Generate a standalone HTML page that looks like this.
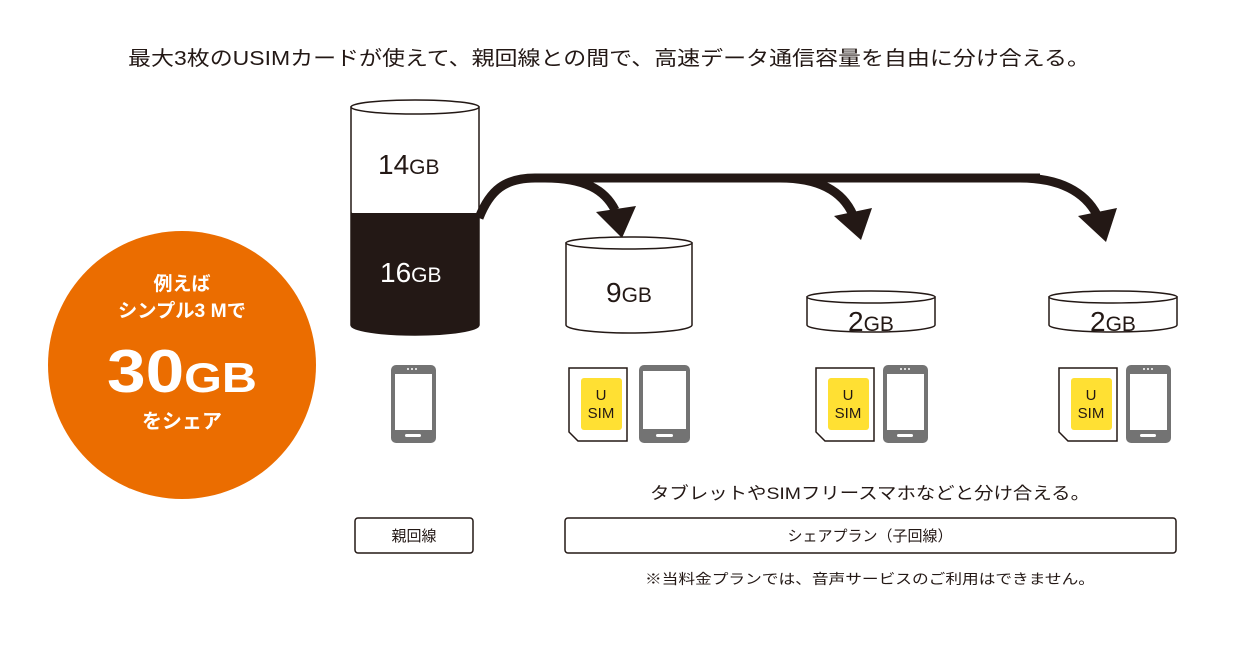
<!DOCTYPE html>
<html><head><meta charset="utf-8">
<style>
html,body{margin:0;padding:0;background:#fff;}
svg{display:block;}
text{font-family:"Liberation Sans","Noto Sans CJK JP",sans-serif;}
</style></head>
<body>
<svg width="1240" height="665" viewBox="0 0 1240 665" xmlns="http://www.w3.org/2000/svg">
<text x="609" y="65" font-size="20" text-anchor="middle" fill="#231815" textLength="962" lengthAdjust="spacingAndGlyphs">最大3枚のUSIMカードが使えて、親回線との間で、高速データ通信容量を自由に分け合える。</text>

<!-- orange circle -->
<circle cx="182" cy="365" r="134" fill="#EB6D00"/>
<g fill="#fff" font-weight="bold" text-anchor="middle">
<text x="182" y="290" font-size="19">例えば</text>
<text x="182" y="317" font-size="19" textLength="128" lengthAdjust="spacingAndGlyphs">シンプル3 Mで</text>
<text x="182" y="392" font-size="60" textLength="150" lengthAdjust="spacingAndGlyphs">30<tspan font-size="42">GB</tspan></text>
<text x="182" y="428" font-size="20">をシェア</text>
</g>

<!-- big cylinder -->
<path d="M351,107 L351,325 A64,10 0 0 0 479,325 L479,107 Z" fill="#fff" stroke="#231815" stroke-width="1.5"/>
<path d="M351,211 A64,10 0 0 0 479,211 L479,325 A64,10 0 0 1 351,325 Z" fill="#231815"/>
<path d="M351,213 L351,325 A64,10 0 0 0 479,325 L479,213 Z" fill="#231815"/>
<ellipse cx="415" cy="107" rx="64" ry="7" fill="#fff" stroke="#231815" stroke-width="1.5"/>
<text x="378" y="174" font-size="28" fill="#231815">14<tspan font-size="21">GB</tspan></text>
<text x="380" y="282" font-size="28" fill="#fff">16<tspan font-size="21">GB</tspan></text>

<!-- arrows -->
<g fill="none" stroke="#231815" stroke-width="9">
<path d="M479,218 C490,190 505,178 535,178 L1040,178"/>
<path d="M545,178 C585,178 605,190 615,210"/>
<path d="M780,178 C820,178 843,192 853,215"/>
<path d="M1020,178 C1060,178 1085,192 1097,215"/>
</g>
<g fill="#231815">
<polygon points="596,212 636,206 622,238"/>
<polygon points="834,216 872,208 861,240"/>
<polygon points="1078,216 1117,208 1106,242"/>
</g>

<!-- 9GB cylinder -->
<path d="M566,243 L566,325 A63,8 0 0 0 692,325 L692,243 Z" fill="#fff" stroke="#231815" stroke-width="1.5"/>
<ellipse cx="629" cy="243" rx="63" ry="6" fill="#fff" stroke="#231815" stroke-width="1.5"/>
<text x="606" y="302" font-size="28" fill="#231815">9<tspan font-size="21">GB</tspan></text>

<!-- 2GB disks -->
<g stroke="#231815" stroke-width="1.5" fill="#fff">
<path d="M807,297 L807,325 A64,7 0 0 0 935,325 L935,297 Z"/>
<ellipse cx="871" cy="297" rx="64" ry="6"/>
<path d="M1049,297 L1049,325 A64,7 0 0 0 1177,325 L1177,297 Z"/>
<ellipse cx="1113" cy="297" rx="64" ry="6"/>
</g>
<text x="848" y="331" font-size="28" fill="#231815">2<tspan font-size="21">GB</tspan></text>
<text x="1090" y="331" font-size="28" fill="#231815">2<tspan font-size="21">GB</tspan></text>

<!-- phone parent -->
<g>
<rect x="391" y="365" width="45" height="78" rx="5" fill="#737373"/>
<rect x="395" y="374" width="37" height="56" fill="#fff"/>
<rect x="405" y="434" width="16" height="3" rx="1.5" fill="#fff"/>
<circle cx="408" cy="369" r="1" fill="#fff"/><circle cx="412" cy="369" r="1" fill="#fff"/><circle cx="416" cy="369" r="1" fill="#fff"/>
</g>

<!-- group 1: sim + tablet -->
<g>
<path d="M569,368 L627,368 L627,441 L578,441 L569,432 Z" fill="#fff" stroke="#231815" stroke-width="1.5"/>
<rect x="581" y="378" width="41" height="52" rx="3" fill="#FFE033"/>
<text x="601" y="400" font-size="15" text-anchor="middle" fill="#231815">U</text>
<text x="601" y="418" font-size="15" text-anchor="middle" fill="#231815">SIM</text>
<rect x="639" y="365" width="51" height="78" rx="5" fill="#737373"/>
<rect x="643" y="371" width="43" height="58" fill="#fff"/>
<rect x="656" y="434" width="17" height="3" rx="1.5" fill="#fff"/>
</g>

<!-- group 2 -->
<g>
<path d="M816,368 L874,368 L874,441 L825,441 L816,432 Z" fill="#fff" stroke="#231815" stroke-width="1.5"/>
<rect x="828" y="378" width="41" height="52" rx="3" fill="#FFE033"/>
<text x="848" y="400" font-size="15" text-anchor="middle" fill="#231815">U</text>
<text x="848" y="418" font-size="15" text-anchor="middle" fill="#231815">SIM</text>
<rect x="883" y="365" width="45" height="78" rx="5" fill="#737373"/>
<rect x="887" y="374" width="37" height="56" fill="#fff"/>
<rect x="897" y="434" width="16" height="3" rx="1.5" fill="#fff"/>
<circle cx="901" cy="369" r="1" fill="#fff"/><circle cx="905" cy="369" r="1" fill="#fff"/><circle cx="909" cy="369" r="1" fill="#fff"/>
</g>

<!-- group 3 -->
<g>
<path d="M1059,368 L1117,368 L1117,441 L1068,441 L1059,432 Z" fill="#fff" stroke="#231815" stroke-width="1.5"/>
<rect x="1071" y="378" width="41" height="52" rx="3" fill="#FFE033"/>
<text x="1091" y="400" font-size="15" text-anchor="middle" fill="#231815">U</text>
<text x="1091" y="418" font-size="15" text-anchor="middle" fill="#231815">SIM</text>
<rect x="1126" y="365" width="45" height="78" rx="5" fill="#737373"/>
<rect x="1130" y="374" width="37" height="56" fill="#fff"/>
<rect x="1140" y="434" width="16" height="3" rx="1.5" fill="#fff"/>
<circle cx="1144" cy="369" r="1" fill="#fff"/><circle cx="1148" cy="369" r="1" fill="#fff"/><circle cx="1152" cy="369" r="1" fill="#fff"/>
</g>

<text x="870" y="499" font-size="17" text-anchor="middle" fill="#231815" textLength="440" lengthAdjust="spacingAndGlyphs">タブレットやSIMフリースマホなどと分け合える。</text>

<rect x="355" y="518" width="118" height="35" rx="3" fill="#fff" stroke="#231815" stroke-width="1.5"/>
<text x="414" y="541" font-size="15" text-anchor="middle" fill="#231815">親回線</text>
<rect x="565" y="518" width="611" height="35" rx="3" fill="#fff" stroke="#231815" stroke-width="1.5"/>
<text x="870" y="541" font-size="15" text-anchor="middle" fill="#231815">シェアプラン（子回線）</text>

<text x="870" y="584" font-size="14" text-anchor="middle" fill="#231815" textLength="450" lengthAdjust="spacingAndGlyphs">※当料金プランでは、音声サービスのご利用はできません。</text>
</svg>
</body></html>
